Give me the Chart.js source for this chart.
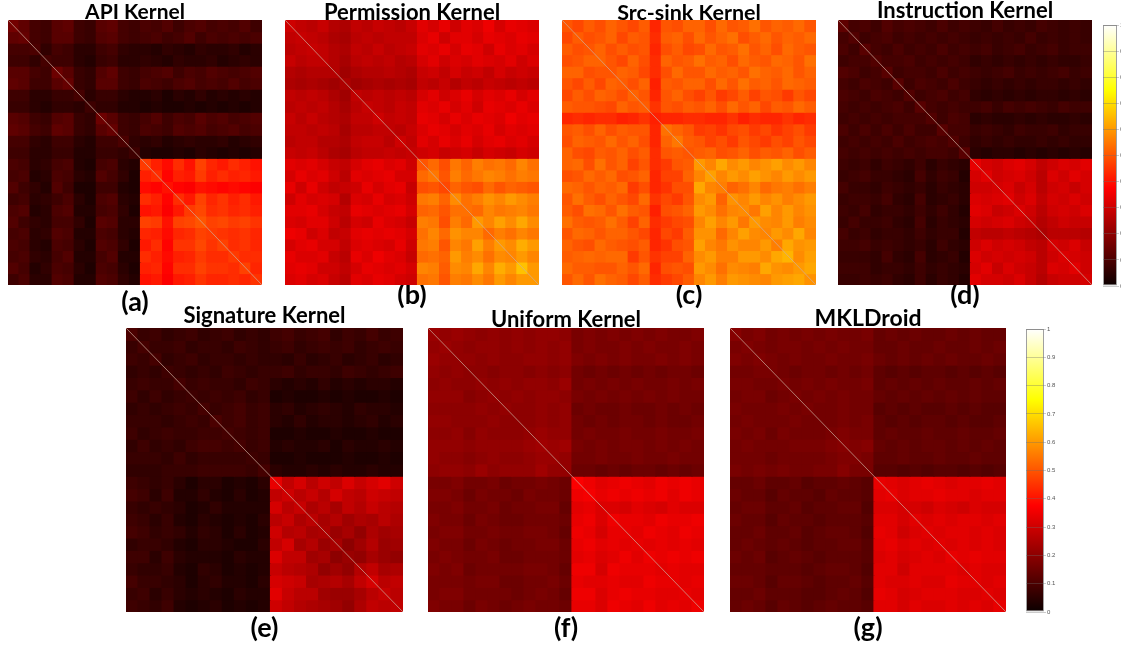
<!DOCTYPE html>
<html>
<head>
<meta charset="utf-8">
<title>Kernel matrices</title>
<script src="https://cdn.jsdelivr.net/npm/chart.js@4"></script>
<style>
html, body { margin: 0; background: #fff; overflow: hidden; }
canvas { position: absolute; }
</style>
</head>
<body>
<script>
// upper triangle of each kernel matrix, values in hundredths, row i starts at column i
const apiKernel = [
[16,13,9,8,12,13,8,7,12,13,9,8,10,9,11,8,10,11,9,10,9,11,8],
[14,9,8,12,12,8,7,11,12,9,8,9,10,8,9,11,8,10,9,10,9,10],
[10,6,9,8,5,5,8,9,6,5,5,4,6,5,4,6,5,5,6,4,5],
[9,8,8,5,4,7,8,5,5,6,5,4,6,5,5,6,4,5,6,5],
[15,12,7,6,11,13,8,7,9,10,11,8,10,9,11,10,9,10,11],
[14,7,6,12,12,8,7,10,9,8,10,11,9,10,9,11,9,10],
[9,5,7,7,5,4,4,5,3,5,4,6,4,5,4,5,4],
[8,6,6,4,4,3,4,3,3,4,3,4,3,4,3,4],
[15,12,8,7,9,11,8,10,9,12,10,11,9,10,11],
[14,8,7,10,9,8,11,10,11,9,10,11,9,10],
[10,6,5,6,4,5,6,5,5,6,4,5,6],
[8,4,3,3,4,3,5,4,3,4,3,4],
[46,42,39,44,40,47,43,41,44,42,40],
[44,38,42,41,46,42,44,42,43,41],
[40,38,37,40,39,38,39,38,37],
[44,41,47,43,45,42,44,41],
[46,48,44,45,43,44,42],
[50,47,48,46,47,45],
[46,45,44,45,43],
[47,44,45,43],
[46,44,44],
[47,43],
[45]];
const permissionKernel = [
[30,28,27,29,26,25,28,27,29,28,27,29,33,31,34,30,33,32,35,31,34,33,32],
[29,28,27,25,24,27,28,27,28,28,28,32,34,30,33,33,31,34,33,32,34,33],
[29,28,26,25,28,27,29,27,28,29,33,32,34,31,34,33,30,34,32,33,31],
[28,26,24,27,28,27,28,26,27,31,33,30,32,31,33,32,31,33,30,32],
[26,23,25,26,26,27,26,25,29,30,28,31,29,30,28,31,29,30,29],
[25,23,24,25,24,25,24,28,27,29,26,28,27,29,28,27,28,27],
[28,27,28,27,28,27,31,33,30,32,34,31,33,32,34,31,33],
[29,28,27,29,28,33,32,34,31,33,30,34,33,32,34,32],
[30,28,29,28,34,33,31,34,32,34,33,32,35,33,34],
[28,27,29,32,34,33,31,33,32,34,31,33,32,33],
[30,28,33,31,34,32,34,31,33,34,32,33,31],
[29,30,31,29,30,31,29,31,30,29,31,30],
[50,53,49,55,52,56,54,55,53,57,54],
[55,50,56,53,55,57,56,54,56,55],
[48,52,50,49,53,50,52,51,50],
[58,54,56,59,57,60,58,56],
[54,53,57,55,56,57,55],
[60,57,61,58,62,58],
[53,56,54,57,55],
[60,58,63,60],
[57,60,57],
[66,60],
[60]];
const srcSinkKernel = [
[50,48,51,49,52,50,48,51,43,50,49,52,52,49,53,50,51,54,50,52,51,53,50],
[51,49,50,52,48,51,50,44,51,52,49,53,50,52,54,49,51,53,50,52,51,53],
[50,52,49,51,49,50,43,49,51,48,49,53,50,51,54,50,52,49,53,51,50],
[52,50,48,52,49,44,52,50,51,54,51,52,49,53,51,50,53,52,50,54],
[50,52,51,48,44,49,53,50,50,53,51,52,50,54,52,51,53,50,52],
[51,49,52,42,51,50,52,52,49,53,50,54,51,52,50,53,52,51],
[52,50,43,50,52,49,47,50,46,48,51,47,50,49,46,50,48],
[51,45,50,49,51,50,52,49,53,50,52,48,51,50,53,51],
[42,43,43,44,44,43,43,45,42,44,43,43,45,43,44],
[54,52,50,46,47,45,48,49,46,48,45,47,49,46],
[55,51,50,47,49,46,50,48,46,49,47,50,48],
[50,51,52,49,50,52,49,51,50,52,49,51],
[60,57,62,58,60,57,59,61,58,60,57],
[61,57,60,58,61,59,57,60,58,60],
[56,52,54,57,53,55,56,54,56],
[59,57,60,57,59,56,58,60],
[58,55,61,57,60,57,59],
[60,58,57,60,56,58],
[57,60,58,62,57],
[56,62,59,60],
[64,58,61],
[60,62],
[59]];
const instructionKernel = [
[13,9,10,8,11,9,10,9,8,10,8,9,8,7,9,7,8,7,9,8,7,8,7],
[11,8,9,10,8,9,8,9,8,9,8,7,8,7,8,7,9,7,8,7,8,7],
[12,9,8,10,8,9,8,10,8,9,8,9,7,8,9,7,8,9,7,8,8],
[11,9,9,10,8,9,8,9,8,6,7,6,7,6,7,6,7,6,6,7],
[12,8,9,9,8,10,8,9,8,7,8,9,7,8,7,8,9,7,8],
[12,8,10,9,8,10,8,7,6,7,6,7,6,7,7,6,7,6],
[11,8,9,10,8,9,6,5,6,5,6,5,6,6,5,6,5],
[12,9,8,9,8,8,9,7,9,8,9,8,7,9,8,8],
[11,8,10,9,5,6,5,5,6,5,6,5,5,6,5],
[12,9,9,7,8,7,6,8,7,7,8,6,7,7],
[11,8,6,7,6,7,6,6,7,6,7,6,6],
[12,5,4,5,5,4,5,4,5,4,5,4],
[34,31,30,32,33,31,28,30,32,31,33],
[33,30,31,32,30,27,32,30,33,31],
[31,32,29,31,27,30,31,29,31],
[33,30,32,28,31,30,32,30],
[32,30,27,30,31,30,32],
[29,26,28,30,29,29],
[25,27,27,27,26],
[31,30,32,29],
[32,31,30],
[33,30],
[31]];
const signatureKernel = [
[10,7,8,6,7,8,6,7,8,6,7,6,8,9,7,8,9,6,8,7,9,7,8],
[9,7,7,8,6,7,7,6,8,7,6,7,8,6,7,8,7,8,6,7,8,7],
[9,6,7,8,6,7,7,6,7,6,6,5,7,5,6,7,5,6,7,5,6],
[8,7,6,7,6,8,7,6,7,7,8,6,7,7,6,8,7,6,7,8],
[9,7,8,7,7,6,8,7,5,4,5,4,6,4,5,4,5,5,4],
[8,7,8,7,8,6,7,3,4,3,3,4,3,4,3,3,4,3],
[9,7,8,9,7,8,5,6,4,5,6,5,4,6,5,5,4],
[10,8,9,7,8,5,4,6,4,5,5,4,5,6,4,5],
[9,8,7,8,3,3,4,3,3,4,3,3,4,3,3],
[9,7,8,4,5,4,4,5,3,5,4,4,5,4],
[8,7,3,3,4,3,3,3,4,3,3,4,3],
[9,5,4,4,5,4,5,4,4,5,4,4],
[34,28,31,27,30,28,32,29,31,33,30],
[30,27,29,26,31,28,27,30,29,28],
[29,25,27,24,28,26,29,27,26],
[27,24,26,23,25,24,27,25],
[25,22,24,21,25,23,24],
[24,20,23,26,22,23],
[22,21,24,22,21],
[26,28,24,25],
[31,27,28],
[29,27],
[28]];
const uniformKernel = [
[22,21,22,21,20,21,20,21,20,21,21,20,17,18,17,18,17,18,17,18,17,17,18],
[22,21,20,21,21,20,21,20,21,20,21,17,18,17,17,18,17,18,17,17,18,17],
[21,21,20,21,20,20,21,21,20,21,18,17,18,17,18,17,17,18,17,18,17],
[20,20,19,20,20,19,20,19,20,16,15,16,15,16,15,16,15,16,16,15],
[21,20,21,20,21,21,20,22,16,17,16,17,16,17,16,16,17,16,17],
[21,20,21,20,21,21,20,17,16,17,16,17,16,17,16,17,16,16],
[21,20,20,21,20,21,15,16,15,15,16,15,15,16,15,16,15],
[20,20,21,20,21,16,15,16,15,16,16,15,16,15,15,16],
[21,22,21,21,16,17,16,16,17,16,16,17,16,16,17],
[23,22,23,17,16,17,16,17,17,16,17,16,17,16],
[22,21,16,16,17,16,16,17,16,16,17,16,16],
[21,15,15,14,15,14,15,15,14,15,14,15],
[37,35,33,34,35,34,33,35,34,35,34],
[36,34,35,34,35,34,35,33,35,34],
[32,32,31,33,32,31,33,32,32],
[35,34,34,33,35,34,34,35],
[34,33,35,34,33,35,34],
[34,33,34,33,34,33],
[35,34,35,34,35],
[33,34,33,33],
[34,33,34],
[34,33],
[35]];
const mklDroidKernel = [
[19,17,18,16,17,16,17,16,17,16,16,17,14,15,14,15,14,14,15,14,15,14,14],
[18,17,16,17,17,16,17,16,17,16,16,14,14,15,14,14,15,14,14,15,14,15],
[18,17,16,17,16,16,17,16,16,17,15,14,15,14,15,14,15,14,14,15,14],
[17,16,15,16,16,15,16,15,16,13,12,13,12,13,13,12,13,12,13,12],
[17,16,17,16,17,16,16,17,13,14,13,14,13,14,13,13,14,13,14],
[17,16,17,16,17,16,16,14,13,14,13,14,13,14,13,14,13,13],
[17,16,16,17,16,16,12,13,12,13,12,12,13,12,13,12,12],
[16,16,17,16,17,13,12,13,12,13,13,12,13,12,12,13],
[17,18,17,17,13,14,13,13,14,13,13,14,13,13,14],
[19,18,19,14,13,14,13,14,14,13,14,13,14,13],
[18,17,13,13,14,13,13,14,13,13,14,13,13],
[17,12,12,11,12,11,12,12,11,12,11,12],
[34,33,32,33,34,33,32,33,33,34,33],
[34,32,33,33,34,33,33,32,33,33],
[31,31,30,32,31,30,32,31,31],
[33,32,33,32,33,33,32,33],
[33,32,33,33,32,33,32],
[33,32,33,32,33,32],
[34,33,34,33,33],
[32,33,32,32],
[33,32,33],
[33,32],
[34]];

const kernelMatrices = [apiKernel, permissionKernel, srcSinkKernel, instructionKernel, signatureKernel, uniformKernel, mklDroidKernel];
const panelTitles = ['API Kernel', 'Permission Kernel', 'Src-sink Kernel', 'Instruction Kernel', 'Signature Kernel', 'Uniform Kernel', 'MKLDroid'];
const panelLabels = ['(a)', '(b)', '(c)', '(d)', '(e)', '(f)', '(g)'];
const colorbarTicks = [0, 0.1, 0.2, 0.3, 0.4, 0.5, 0.6, 0.7, 0.8, 0.9, 1];
const diagonalEnds = [0, 1];
const hotStops = [[0, [10, 0, 0]], [0.375, [255, 0, 0]], [0.75, [255, 255, 0]], [1, [255, 255, 255]]];

// where things go on the page
const panelBoxes = [
    {left: 8, right: 262, top: 20, bottom: 285, titleX: 135, titleY: 12, titleSize: 21, labelY: 302},
    {left: 285, right: 539, top: 20, bottom: 285, titleX: 408, titleY: 13, titleSize: 22, labelY: 295},
    {left: 562, right: 816, top: 20, bottom: 285, titleX: 692, titleY: 13, titleSize: 21.5, labelY: 295},
    {left: 838, right: 1092, top: 20, bottom: 285, titleX: 963, titleY: 11, titleSize: 22, labelY: 295},
    {left: 126, right: 403, top: 328, bottom: 612, titleX: 264, titleY: 316, titleSize: 22, labelY: 628},
    {left: 428, right: 704, top: 328, bottom: 612, titleX: 572, titleY: 320, titleSize: 22, labelY: 628},
    {left: 730, right: 1006, top: 328, bottom: 612, titleX: 867, titleY: 318, titleSize: 23, labelY: 628},
];
const colorbarBoxes = [
    {left: 1103, width: 14, top: 25, bottom: 286, canvasWidth: 18, fontSize: 6},
    {left: 1026, width: 18, top: 329, bottom: 612, canvasWidth: 34, fontSize: 6},
];

const titleFont = 'Lato, "Open Sans", sans-serif';
const labelSize = 27;

function hotColor(v) {
    for (let i = 1; i < hotStops.length; i++) {
        if (v <= hotStops[i][0] || i === hotStops.length - 1) {
            const a = hotStops[i - 1], b = hotStops[i];
            const t = Math.min(1, Math.max(0, (v - a[0]) / (b[0] - a[0])));
            const c = a[1].map((n, k) => Math.round(n + (b[1][k] - n) * t));
            return `rgb(${c[0]},${c[1]},${c[2]})`;
        }
    }
}

function addCanvas(left, top, width, height) {
    const canvas = document.createElement('canvas');
    canvas.width = width;
    canvas.height = height;
    canvas.style.left = left + 'px';
    canvas.style.top = top + 'px';
    canvas.style.width = width + 'px';
    canvas.style.height = height + 'px';
    document.body.appendChild(canvas);
    return canvas;
}

function drawPanel(index) {
    const tri = kernelMatrices[index];
    const box = panelBoxes[index];
    const size = tri.length;
    const cell = (r, c) => (r <= c ? tri[r][c - r] : tri[c][r - c]) / 100;
    const half = Math.max(box.titleX - box.left, box.right - box.titleX);
    const canvasLeft = box.titleX - half;
    const canvasTop = Math.round(box.titleY - box.titleSize / 2);
    const labelPad = Math.round(box.labelY - labelSize / 2 - box.bottom);
    const height = box.bottom + labelPad + labelSize - canvasTop;
    const columns = tri.map((row, i) => 'c' + i);

    const rowSets = tri.map((row, r) => ({
        type: 'bar',
        stack: 'rows',
        data: columns.map(() => 1),
        backgroundColor: ctx => hotColor(cell(r, ctx.dataIndex)),
        borderWidth: 0,
        inflateAmount: 0.6,
        grouped: false,
        barPercentage: 1,
        categoryPercentage: 1,
        xAxisID: 'x',
        yAxisID: 'y',
        order: 2,
    }));

    new Chart(addCanvas(canvasLeft, canvasTop, half * 2, height), {
        type: 'bar',
        data: {
            labels: columns,
            datasets: [...rowSets, {
                type: 'line',
                data: diagonalEnds.map(d => ({x: d, y: d})),
                borderColor: 'rgba(205,175,160,0.7)',
                borderWidth: 1,
                pointRadius: 0,
                xAxisID: 'xd',
                yAxisID: 'yd',
                order: 1,
            }],
        },
        options: {
            responsive: false,
            animation: false,
            events: [],
            layout: {
                autoPadding: false,
                padding: {left: box.left - canvasLeft, right: canvasLeft + half * 2 - box.right, top: 0, bottom: 0},
            },
            plugins: {
                legend: {display: false},
                tooltip: {enabled: false},
                title: {
                    display: true,
                    text: panelTitles[index],
                    color: '#000',
                    font: {family: titleFont, size: box.titleSize, weight: 'bold', lineHeight: 1},
                    padding: {top: 0, bottom: box.top - canvasTop - box.titleSize},
                },
            },
            scales: {
                x: {
                    type: 'category',
                    offset: true,
                    stacked: true,
                    border: {display: false},
                    grid: {display: false, drawTicks: false},
                    ticks: {display: false},
                    title: {
                        display: true,
                        text: panelLabels[index],
                        color: '#000',
                        font: {family: titleFont, size: labelSize, weight: 'bold', lineHeight: 1},
                        padding: {top: labelPad, bottom: 0},
                    },
                },
                y: {stacked: true, display: false, reverse: true, min: 0, max: size},
                xd: {type: 'linear', axis: 'x', display: false, offset: false, min: 0, max: 1},
                yd: {type: 'linear', axis: 'y', display: false, offset: false, min: 0, max: 1, reverse: true},
            },
        },
    });
}

function drawColorbar(box) {
    const canvasTop = box.top - 8;
    const height = box.bottom - box.top + 18;
    new Chart(addCanvas(box.left, canvasTop, box.canvasWidth, height), {
        type: 'bar',
        data: {
            labels: [''],
            datasets: [{
                data: [1],
                backgroundColor: ctx => {
                    const area = ctx.chart.chartArea;
                    if (!area) return '#000';
                    const g = ctx.chart.ctx.createLinearGradient(0, area.bottom, 0, area.top);
                    hotStops.forEach(s => g.addColorStop(s[0], hotColor(s[0])));
                    return g;
                },
                borderColor: '#a0a0a0',
                borderWidth: 1,
                borderSkipped: false,
                inflateAmount: 0,
                barPercentage: 1,
                categoryPercentage: 1,
            }],
        },
        options: {
            responsive: false,
            animation: false,
            events: [],
            layout: {autoPadding: false, padding: {top: 8, bottom: 10, left: 0, right: 0}},
            plugins: {legend: {display: false}, tooltip: {enabled: false}},
            scales: {
                x: {display: false},
                y: {
                    position: 'right',
                    min: 0,
                    max: 1,
                    afterFit: s => { s.width = box.canvasWidth - box.width; },
                    afterBuildTicks: s => { s.ticks = colorbarTicks.map(v => ({value: v})); },
                    border: {display: false},
                    grid: {color: 'rgba(110,110,110,0.35)', tickLength: 2, z: 1},
                    ticks: {
                        color: '#555',
                        padding: 1,
                        autoSkip: false,
                        maxRotation: 0,
                        font: {family: 'Liberation Sans', size: box.fontSize},
                        callback: v => String(v),
                    },
                },
            },
        },
    });
}

panelTitles.forEach((t, i) => drawPanel(i));
colorbarBoxes.forEach(drawColorbar);
</script>
</body>
</html>
